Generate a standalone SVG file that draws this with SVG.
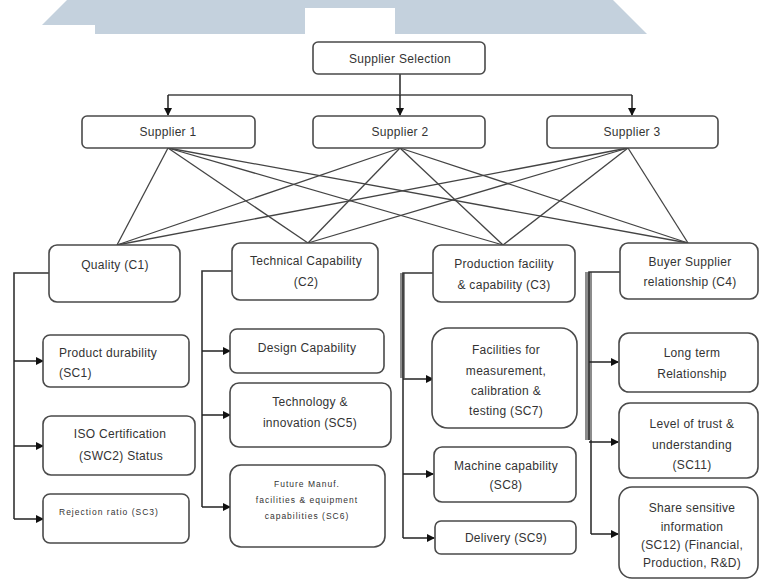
<svg xmlns="http://www.w3.org/2000/svg" width="759" height="581" viewBox="0 0 759 581">
<style>
.box{fill:#fff;stroke:#4a4a4a;stroke-width:1.6}
.t{font-family:"Liberation Sans",Arial,sans-serif;font-size:12px;letter-spacing:0.3px;fill:#333;text-anchor:middle}
.s{font-family:"Liberation Sans",Arial,sans-serif;font-size:8.5px;letter-spacing:1px;fill:#333;text-anchor:middle}
.ln{stroke:#444;stroke-width:1.3;fill:none}
.ar{stroke:#222;stroke-width:1.5;fill:none;marker-end:url(#ah)}
.tree{stroke:#333;stroke-width:1.6;fill:none}
</style>
<defs>
<marker id="ah" markerWidth="8" markerHeight="8" refX="7" refY="4" orient="auto" markerUnits="userSpaceOnUse">
<path d="M0,0 L8,4 L0,8 Z" fill="#111"/>
</marker>
</defs>
<rect width="759" height="581" fill="#fff"/>
<g id="banner">
<polygon points="67,0 613,0 647,34 95,34 95,25 42,25" fill="#c4d1dd"/>
<rect x="305" y="8" width="90" height="27" fill="#fff"/>
</g>
<g id="connectors">
<path class="tree" d="M400,74 V95"/>
<path class="ln" d="M168,95 H632"/>
<path class="ar" d="M168,95 V115"/>
<path class="ar" d="M400,95 V115"/>
<path class="ar" d="M632,95 V115"/>
<g class="ln">
<path d="M168,148 L117,245"/>
<path d="M168,148 L308,243"/>
<path d="M168,148 L503,245"/>
<path d="M168,148 L688,243"/>
<path d="M400,148 L117,245"/>
<path d="M400,148 L308,243"/>
<path d="M400,148 L503,245"/>
<path d="M400,148 L688,243"/>
<path d="M628,148 L117,245"/>
<path d="M628,148 L308,243"/>
<path d="M628,148 L503,245"/>
<path d="M628,148 L688,243"/>
</g>
<path class="tree" d="M49,273 H14 V519"/>
<path class="ar" d="M14,361 H43"/>
<path class="ar" d="M14,446 H43"/>
<path class="ar" d="M14,519 H43"/>
<path class="tree" d="M232,271 H202 V507"/>
<path class="ar" d="M202,351 H230"/>
<path class="ar" d="M202,415 H230"/>
<path class="ar" d="M202,507 H230"/>
<rect x="400" y="273" width="5" height="105" fill="#8c8c8c"/>
<path class="tree" d="M433,273 H403 V538"/>
<path class="ar" d="M403,379 H433"/>
<path class="ar" d="M403,474 H433"/>
<path class="ar" d="M403,538 H434"/>
<rect x="585" y="272" width="7" height="168" fill="#8c8c8c"/>
<path class="tree" d="M620,272 H589 V440 M591,440 V534"/>
<path class="ar" d="M589,362 H618"/>
<path class="ar" d="M589,442 H618"/>
<path class="ar" d="M591,534 H618"/>
</g>
<g id="supplier-selection"><rect class="box" x="313" y="42" width="172" height="32" rx="5"/><text class="t" x="400" y="63">Supplier Selection</text></g>
<g id="supplier-1"><rect class="box" x="82" y="116" width="173" height="32" rx="5"/><text class="t" x="168" y="136">Supplier 1</text></g>
<g id="supplier-2"><rect class="box" x="313" y="116" width="172" height="32" rx="5"/><text class="t" x="400" y="136">Supplier 2</text></g>
<g id="supplier-3"><rect class="box" x="547" y="116" width="171" height="32" rx="5"/><text class="t" x="632" y="136">Supplier 3</text></g>
<g id="c1"><rect class="box" x="49" y="245" width="131" height="57" rx="8"/><text class="t" x="115" y="269">Quality (C1)</text></g>
<g id="c2"><rect class="box" x="232" y="243" width="146" height="57" rx="8"/><text class="t" x="306" y="265">Technical Capability</text><text class="t" x="306" y="286">(C2)</text></g>
<g id="c3"><rect class="box" x="433" y="245" width="142" height="57" rx="8"/><text class="t" x="504" y="268">Production facility</text><text class="t" x="504" y="289">&amp; capability (C3)</text></g>
<g id="c4"><rect class="box" x="620" y="243" width="138" height="56" rx="8"/><text class="t" x="690" y="266">Buyer Supplier</text><text class="t" x="690" y="286">relationship (C4)</text></g>
<g id="sc1"><rect class="box" x="43" y="335" width="146" height="52" rx="7"/><text class="t" x="59" y="357" style="text-anchor:start">Product durability</text><text class="t" x="59" y="377" style="text-anchor:start">(SC1)</text></g>
<g id="sc2"><rect class="box" x="43" y="416" width="152" height="59" rx="8"/><text class="t" x="120" y="438">ISO Certification</text><text class="t" x="121" y="460">(SWC2) Status</text></g>
<g id="sc3"><rect class="box" x="43" y="494" width="146" height="49" rx="7"/><text class="s" x="59" y="515" style="text-anchor:start">Rejection ratio (SC3)</text></g>
<g id="sc4"><rect class="box" x="230" y="329" width="154" height="44" rx="7"/><text class="t" x="307" y="352">Design Capability</text></g>
<g id="sc5"><rect class="box" x="230" y="383" width="161" height="64" rx="9"/><text class="t" x="310" y="406">Technology &amp;</text><text class="t" x="310" y="427">innovation (SC5)</text></g>
<g id="sc6"><rect class="box" x="230" y="465" width="155" height="82" rx="11"/><text class="s" x="307" y="487">Future Manuf.</text><text class="s" x="307" y="503">facilities &amp; equipment</text><text class="s" x="307" y="519">capabilities (SC6)</text></g>
<g id="sc7"><rect class="box" x="432" y="328" width="145" height="100" rx="16"/><text class="t" x="506" y="354">Facilities for</text><text class="t" x="506" y="375">measurement,</text><text class="t" x="506" y="395">calibration &amp;</text><text class="t" x="506" y="415">testing (SC7)</text></g>
<g id="sc8"><rect class="box" x="434" y="447" width="142" height="55" rx="8"/><text class="t" x="506" y="470">Machine capability</text><text class="t" x="506" y="489">(SC8)</text></g>
<g id="sc9"><rect class="box" x="435" y="521" width="141" height="33" rx="6"/><text class="t" x="506" y="542">Delivery (SC9)</text></g>
<g id="sc10"><rect class="box" x="619" y="333" width="139" height="59" rx="10"/><text class="t" x="692" y="357">Long term</text><text class="t" x="692" y="378">Relationship</text></g>
<g id="sc11"><rect class="box" x="619" y="403" width="139" height="75" rx="11"/><text class="t" x="692" y="428">Level of trust &amp;</text><text class="t" x="692" y="449">understanding</text><text class="t" x="692" y="469">(SC11)</text></g>
<g id="sc12"><rect class="box" x="619" y="487" width="139" height="91" rx="13"/><text class="t" x="692" y="512">Share sensitive</text><text class="t" x="692" y="531">information</text><text class="t" x="692" y="549">(SC12) (Financial,</text><text class="t" x="692" y="567">Production, R&amp;D)</text></g>
</svg>
